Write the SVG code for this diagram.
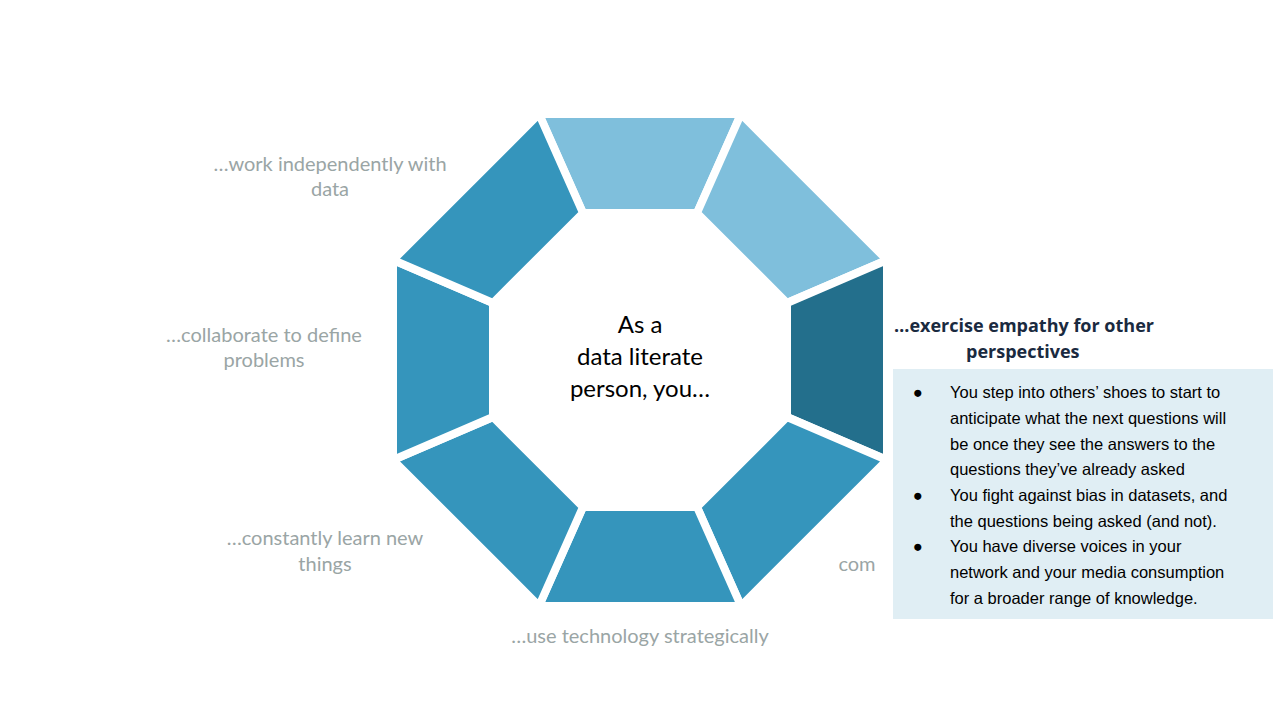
<svg xmlns="http://www.w3.org/2000/svg" width="1280" height="720" viewBox="0 0 1280 720">
<style>
.seg{stroke:#fff;stroke-width:8;stroke-linejoin:miter}
.mid{fill:#3595bc}.lt{fill:#7fbfdc}.dk{fill:#236f8c}
.lab{font-family:Lato,"Open Sans",sans-serif;font-size:20px;fill:#9aa5a5;text-anchor:middle}
.box{font-family:"Liberation Sans",Arial,sans-serif;font-size:16.5px;fill:#000}
</style>
<rect width="1280" height="720" fill="#fff"/>
<g id="octagon">
<polygon id="s-top" class="seg lt" points="539,114 741,114 697,213 583,213"/>
<polygon id="s-tr" class="seg lt" points="741,114 887,260 787,303 697,213"/>
<polygon id="s-r" class="seg dk" points="887,260 887,460 787,417 787,303"/>
<polygon id="s-br" class="seg mid" points="887,460 741,606 697,507 787,417"/>
<polygon id="s-b" class="seg mid" points="741,606 539,606 583,507 697,507"/>
<polygon id="s-bl" class="seg mid" points="539,606 393,460 493,417 583,507"/>
<polygon id="s-l" class="seg mid" points="393,460 393,260 493,303 493,417"/>
<polygon id="s-tl" class="seg mid" points="393,260 539,114 583,213 493,303"/>
</g>
<g id="center" font-family="Lato,'Open Sans',sans-serif" font-size="24" text-anchor="middle" fill="#000">
<text x="640" y="333">As a</text>
<text x="640" y="365">data literate</text>
<text x="640" y="397">person, you…</text>
</g>
<g id="labels">
<text class="lab" x="330" y="171">…work independently with</text>
<text class="lab" x="330" y="196">data</text>
<text class="lab" x="264" y="342">…collaborate to define</text>
<text class="lab" x="264" y="367">problems</text>
<text class="lab" x="325" y="545">…constantly learn new</text>
<text class="lab" x="325" y="571">things</text>
<text class="lab" x="640" y="643">…use technology strategically</text>
<text class="lab" x="857" y="571" text-anchor="start">com</text>
</g>
<g id="detail">
<text font-family="'Open Sans',sans-serif" font-weight="bold" font-size="18" fill="#1a2a40" x="894" y="332">…exercise empathy for other</text>
<text font-family="'Open Sans',sans-serif" font-weight="bold" font-size="18" fill="#1a2a40" x="966" y="358">perspectives</text>
<rect x="893" y="369" width="380" height="250" fill="#e0eef4"/>
<g class="box">
<text x="913" y="398">●</text><text x="950" y="398">You step into others’ shoes to start to</text>
<text x="950" y="424">anticipate what the next questions will</text>
<text x="950" y="450">be once they see the answers to the</text>
<text x="950" y="475">questions they’ve already asked</text>
<text x="913" y="501">●</text><text x="950" y="501">You fight against bias in datasets, and</text>
<text x="950" y="527">the questions being asked (and not).</text>
<text x="913" y="552">●</text><text x="950" y="552">You have diverse voices in your</text>
<text x="950" y="578">network and your media consumption</text>
<text x="950" y="604">for a broader range of knowledge.</text>
</g>
</g>
</svg>
